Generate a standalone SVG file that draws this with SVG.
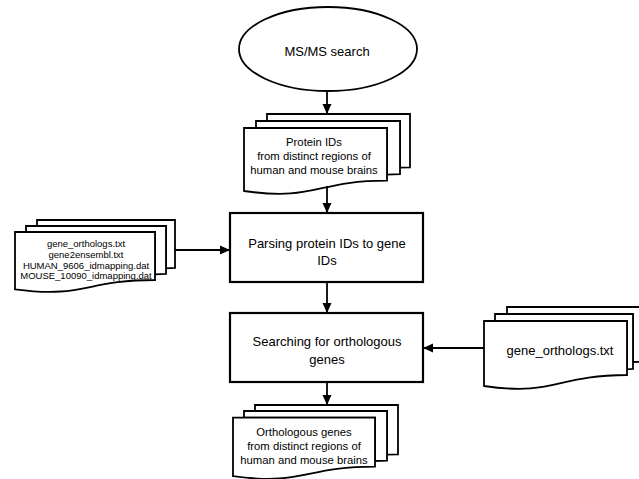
<svg xmlns="http://www.w3.org/2000/svg" width="639" height="479" viewBox="0 0 639 479">
<style>
.sh{fill:#fff;stroke:#000;stroke-width:1.8;stroke-linejoin:miter}
.bx{fill:#fff;stroke:#000;stroke-width:2.2}
.t{font-family:"Liberation Sans",Arial,sans-serif;fill:#000;text-anchor:middle}
.c{stroke:#000;stroke-width:1.8;fill:none;marker-end:url(#ah)}
</style>
<defs>
<marker id="ah" markerUnits="userSpaceOnUse" markerWidth="10" markerHeight="10" refX="10" refY="5" orient="auto" viewBox="0 0 10 10">
<path d="M0,0.5 L10,5 L0,9.5 Z" fill="#000"/>
</marker>
</defs>
<g id="ms-search">
<ellipse class="sh" cx="328" cy="49" rx="89" ry="42"/>
<text class="t" x="327" y="56" font-size="13">MS/MS search</text>
</g>
<g id="protein-ids">
<path class="sh" d="M267,121 L267,114 L410,114 L410,167.3 L400,167.6 L400,121 Z"/>
<path class="sh" d="M256,128 L256,121 L400,121 L400,174.2 L387,174.6 L387,128 Z"/>
<path class="sh" d="M244,191 C315.5,201.2 315.5,180.7 387,180.7 L387,128 L244,128 Z"/>
<text class="t" x="314" y="146" font-size="11.3">Protein IDs</text>
<text class="t" x="314" y="159.5" font-size="11.3">from distinct regions of</text>
<text class="t" x="314" y="173.5" font-size="11.3">human and mouse brains</text>
</g>
<g id="id-files">
<path class="sh" d="M37,226 L37,220 L175,220 L175,268 L166,268.3 L166,226 Z"/>
<path class="sh" d="M26,232 L26,226 L166,226 L166,274 L155,274.4 L155,232 Z"/>
<path class="sh" d="M15,289.3 C85,298.5 85,280 155,280 L155,232 L15,232 Z"/>
<text class="t" x="86" y="247.3" font-size="9.5">gene_orthologs.txt</text>
<text class="t" x="86" y="258" font-size="9.5">gene2ensembl.txt</text>
<text class="t" x="86" y="268.7" font-size="9.5">HUMAN_9606_idmapping.dat</text>
<text class="t" x="86" y="279.4" font-size="9.5">MOUSE_10090_idmapping.dat</text>
</g>
<g id="parsing">
<rect class="bx" x="230" y="213" width="193" height="69"/>
<text class="t" x="327" y="247.5" font-size="13">Parsing protein IDs to gene</text>
<text class="t" x="327" y="264.5" font-size="13">IDs</text>
</g>
<g id="searching">
<rect class="bx" x="230" y="313" width="193" height="69"/>
<text class="t" x="327" y="346" font-size="13">Searching for orthologous</text>
<text class="t" x="327" y="364" font-size="13">genes</text>
</g>
<g id="orthologs-file">
<path class="sh" d="M507,314 L507,307 L645,307 L645,361.6 L633,362 L633,314 Z"/>
<path class="sh" d="M495,321 L495,314 L633,314 L633,369 L627,369.3 L627,321 Z"/>
<path class="sh" d="M484,386 C555.5,396.4 555.5,375 627,375 L627,321 L484,321 Z"/>
<text class="t" x="560" y="354.5" font-size="13">gene_orthologs.txt</text>
</g>
<g id="orthologous-genes">
<path class="sh" d="M255,411 L255,405 L398,405 L398,454.3 L387,454.6 L387,411 Z"/>
<path class="sh" d="M244,417.6 L244,411 L387,411 L387,460.6 L375,461 L375,417.6 Z"/>
<path class="sh" d="M233,476.2 C304,485.7 304,466.7 375,466.7 L375,417.6 L233,417.6 Z"/>
<text class="t" x="304" y="436" font-size="11.3">Orthologous genes</text>
<text class="t" x="304" y="450" font-size="11.3">from distinct regions of</text>
<text class="t" x="304" y="464" font-size="11.3">human and mouse brains</text>
</g>
<g id="connectors">
<line class="c" x1="327" y1="91" x2="327" y2="114"/>
<line class="c" x1="327" y1="186" x2="327" y2="213"/>
<line class="c" x1="327" y1="282" x2="327" y2="313"/>
<line class="c" x1="327" y1="382" x2="327" y2="405"/>
<line class="c" x1="175" y1="250" x2="230" y2="250"/>
<line class="c" x1="484" y1="348" x2="423" y2="348"/>
</g>
</svg>
